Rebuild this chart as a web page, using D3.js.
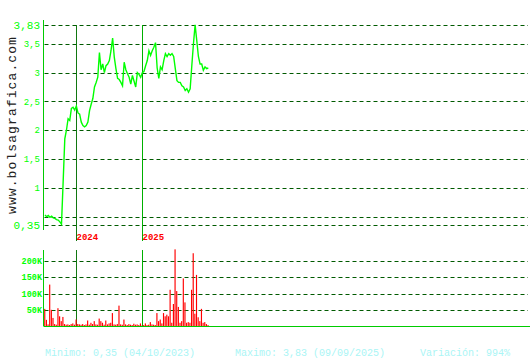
<!DOCTYPE html>
<html>
<head>
<meta charset="utf-8">
<script src="https://cdn.jsdelivr.net/npm/d3@7"></script>
<style>
  html, body { margin: 0; padding: 0; background: #fff; }
  svg { display: block; }
</style>
</head>
<body>
<div id="chart"></div>
<script>
// price samples, left to right (evenly spaced)
const prices = [
  0.53, 0.50, 0.52, 0.49, 0.51, 0.48, 0.47, 0.45, 0.44, 0.41,
  0.37, 1.10, 1.85, 2.00, 2.20, 2.17, 2.38, 2.40, 2.35, 2.42,
  2.30, 2.28, 2.14, 2.08, 2.06, 2.08, 2.14, 2.34, 2.45, 2.55,
  2.75, 2.83, 2.92, 3.35, 3.05, 3.15, 3.00, 3.12, 3.15, 3.21,
  3.38, 3.60, 3.27, 3.07, 2.90, 2.88, 2.83, 2.77, 3.18, 3.05,
  2.98, 2.92, 2.80, 2.95, 2.85, 2.75, 3.00, 2.97, 2.92, 3.00,
  3.02, 3.12, 3.21, 3.38, 3.30, 3.38, 3.44, 3.52, 3.08, 2.90,
  3.10, 3.05, 3.21, 3.33, 3.28, 3.33, 3.30, 3.33, 3.28, 3.07,
  2.86, 2.83, 2.83, 2.77, 2.75, 2.69, 2.72, 2.66, 2.72, 3.12,
  3.50, 3.83, 3.56, 3.28, 3.15, 3.15, 3.04, 3.10, 3.07, 3.08
];

// volume samples, same positions as prices
const volumes = [
  53000, 19000, 5000, 128000, 50000, 25000, 6000, 4000, 55000, 30000,
  15000, 28000, 6000, 4000, 5000, 3000, 6000, 8000, 4000, 20000,
  6000, 5000, 4000, 6000, 3000, 5000, 17000, 4000, 10000, 6000,
  15000, 5000, 4000, 23000, 15000, 10000, 4000, 17000, 5000, 8000,
  10000, 40000, 5000, 4000, 6000, 63000, 5000, 4000, 20000, 5000,
  3000, 6000, 4000, 3000, 7000, 4000, 5000, 3000, 8000, 2000,
  3000, 8000, 3000, 4000, 12000, 5000, 4000, 3000, 40000, 15000,
  20000, 8000, 40000, 30000, 35000, 30000, 112000, 10000, 68000, 237000,
  108000, 59000, 10000, 15000, 147000, 73000, 10000, 12000, 10000, 112000,
  225000, 38000, 158000, 27000, 15000, 53000, 10000, 12000, 6000, 3000
];

const priceTicks = [3.83, 3.5, 3, 2.5, 2, 1.5, 1, 0.5, 0.35];
const priceTickLabels = ['3,83', '3,5', '3', '2,5', '2', '1,5', '1', '', '0,35'];
const volumeTicks = [200000, 150000, 100000, 50000];
const volumeTickLabels = ['200K', '150K', '100K', '50K'];
// year boundaries as positions in the sample index
const yearMarks = [18.6, 59];
const yearLabels = ['2024', '2025'];
const footer = ['Minimo: 0,35 (04/10/2023)', 'Maximo: 3,83 (09/09/2025)', 'Variación: 994%'];

const width = 530, height = 360;
const axisX = 43.5, gridRight = 528;
const mono = '"Liberation Mono", "DejaVu Sans Mono", monospace';

const svg = d3.select('#chart').append('svg')
  .attr('width', width).attr('height', height)
  .style('font-family', mono);

const x = d3.scaleLinear().domain([0, prices.length - 1]).range([45, 208.3]);
const y = d3.scaleLinear().domain([0.35, 3.83]).range([225.3, 24.8]);
const yv = d3.scaleLinear().domain([0, 235000]).range([326, 250]);

// watermark
svg.append('text')
  .attr('transform', 'translate(16,125) rotate(-90)')
  .attr('text-anchor', 'middle')
  .style('font-size', '13px')
  .style('letter-spacing', '1.1px')
  .attr('fill', '#222')
  .text('www.bolsagrafica.com');

// price gridlines
svg.append('g').selectAll('line')
  .data(priceTicks)
  .join('line')
  .attr('x1', axisX + 1).attr('x2', gridRight)
  .attr('y1', (d) => Math.round(y(d)) + 0.5).attr('y2', (d) => Math.round(y(d)) + 0.5)
  .attr('stroke', '#005a00')
  .attr('stroke-dasharray', '4,3');

svg.append('g').selectAll('text')
  .data(priceTicks)
  .join('text')
  .attr('x', 40)
  .attr('y', (d) => y(d))
  .attr('dy', '0.35em')
  .attr('text-anchor', 'end')
  .attr('fill', '#00ff00')
  .style('font-size', (d, i) => (i === 0 || i === priceTicks.length - 1 ? '11px' : '9px'))
  .text((d, i) => priceTickLabels[i]);

// volume gridlines
svg.append('g').selectAll('line')
  .data(volumeTicks)
  .join('line')
  .attr('x1', axisX + 1).attr('x2', gridRight)
  .attr('y1', (d) => Math.round(yv(d)) + 0.5).attr('y2', (d) => Math.round(yv(d)) + 0.5)
  .attr('stroke', '#005a00')
  .attr('stroke-dasharray', '4,3');

svg.append('g').selectAll('text')
  .data(volumeTicks)
  .join('text')
  .attr('x', 42)
  .attr('y', (d) => yv(d))
  .attr('dy', '0.35em')
  .attr('text-anchor', 'end')
  .attr('fill', '#00ff00')
  .style('font-size', '8.5px')
  .style('font-weight', 'bold')
  .text((d, i) => volumeTickLabels[i]);

// year separators
const yearColors = ['#117711', '#00b000'];
yearMarks.forEach((m, i) => {
  const xx = Math.round(x(m)) + 0.5;
  svg.append('line').attr('x1', xx).attr('x2', xx).attr('y1', 25).attr('y2', 241)
    .attr('stroke', yearColors[i]);
  svg.append('line').attr('x1', xx).attr('x2', xx).attr('y1', 250).attr('y2', 326)
    .attr('stroke', yearColors[i]);
  svg.append('text').attr('x', xx).attr('y', 240)
    .attr('fill', '#ff0000')
    .style('font-size', '9px')
    .style('font-weight', 'bold')
    .text(yearLabels[i]);
});

// volume bars
const step = x(1) - x(0);
svg.append('g').selectAll('rect')
  .data(volumes)
  .join('rect')
  .attr('x', (d, i) => x(i) - step / 2)
  .attr('width', step * 0.7)
  .attr('y', (d) => yv(d))
  .attr('height', (d) => yv(0) - yv(d))
  .attr('fill', '#ff0000');

// price line
svg.append('path')
  .datum(prices)
  .attr('fill', 'none')
  .attr('stroke', '#00ff00')
  .attr('stroke-width', 1.4)
  .attr('d', d3.line().x((d, i) => x(i)).y((d) => y(d)));

// axes lines
svg.append('line').attr('x1', axisX).attr('x2', axisX).attr('y1', 20).attr('y2', 230)
  .attr('stroke', '#00cc00');
svg.append('line').attr('x1', axisX).attr('x2', axisX).attr('y1', 250).attr('y2', 326)
  .attr('stroke', '#00cc00');
svg.append('line').attr('x1', axisX).attr('x2', width).attr('y1', 326.5).attr('y2', 326.5)
  .attr('stroke', '#00cc00');

// footer
const footerX = [45, 235, 420];
svg.append('g').selectAll('text')
  .data(footer)
  .join('text')
  .attr('x', (d, i) => footerX[i])
  .attr('y', 356)
  .attr('fill', '#aaf5f5')
  .style('font-size', '10px')
  .text((d) => d);
</script>
</body>
</html>
